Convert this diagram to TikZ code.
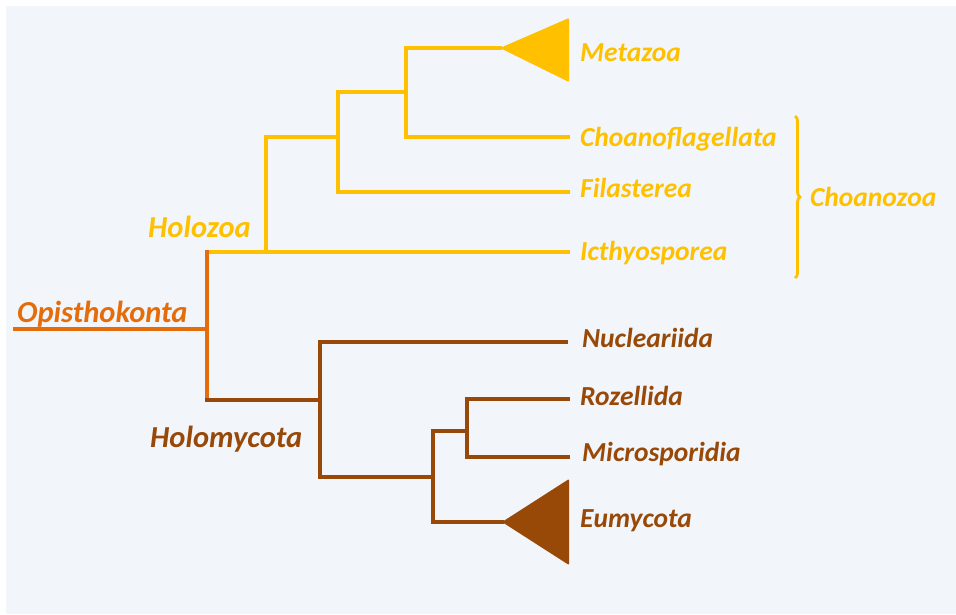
\documentclass[tikz,border=0pt]{standalone}
\usepackage{fontspec}
\setmainfont{Carlito}
\usetikzlibrary{positioning,decorations.pathreplacing}
\definecolor{holozoa}{HTML}{FFC000}
\definecolor{opistho}{HTML}{E46C0A}
\definecolor{holomyc}{HTML}{984807}
\definecolor{panel}{HTML}{F2F6FB}

\begin{document}
\begin{tikzpicture}[
x=1pt,y=-1pt,
branch/.style={line width=3.5pt,line cap=rect},
clade/.style={rounded corners=1pt},
taxon/.style={
anchor=base west,
inner sep=0pt,
font=\fontsize{27.5}{32}\selectfont\bfseries\itshape
},
group/.style={taxon,font=\fontsize{30.5}{36}\selectfont\bfseries\itshape}
]
\useasboundingbox (0,0) rectangle (956,614);
\fill[panel] (6,6) rectangle (956,614);

% tree nodes
\coordinate (stem) at (15,329);
\coordinate (opis) at (207,329);
\coordinate (hzoa) at (266,252);
\coordinate (fila) at (338,137);
\coordinate (meta) at (406,92);
\coordinate (hmyc) at (320,400);
\coordinate (fung) at (433,477);
\coordinate (rozm) at (467,431);

% tips
\coordinate (tipmeta) at (500,48);
\coordinate (tipchoa) at (568,137);
\coordinate (tipfila) at (568,192);
\coordinate (tipicth) at (568,252);
\coordinate (tipnucl) at (566,342);
\coordinate (tiproze) at (568,399);
\coordinate (tipmicr) at (568,457);
\coordinate (tipeumy) at (502,522);

% Holozoa
\draw[branch,holozoa] (opis |- hzoa) -- (hzoa);
\draw[branch,holozoa] (hzoa) -- (tipicth);
\draw[branch,holozoa] (hzoa) |- (fila);
\draw[branch,holozoa] (fila) |- (meta);
\draw[branch,holozoa] (fila) |- (tipfila);
\draw[branch,holozoa] (meta) |- (tipmeta);
\draw[branch,holozoa] (meta) |- (tipchoa);
\fill[holozoa,clade] (tipmeta) -- (569,18) -- (569,82) -- cycle;

% Opisthokonta
\draw[branch,opistho] (stem) -- (opis);
\draw[branch,opistho] (opis |- hzoa) -- (opis |- hmyc);

% Holomycota
\draw[branch,holomyc] (opis |- hmyc) -- (hmyc);
\draw[branch,holomyc] (hmyc) |- (tipnucl);
\draw[branch,holomyc] (hmyc) |- (fung);
\draw[branch,holomyc] (fung) |- (rozm);
\draw[branch,holomyc] (fung) |- (tipeumy);
\draw[branch,holomyc] (rozm) |- (tiproze);
\draw[branch,holomyc] (rozm) |- (tipmicr);
\fill[holomyc,clade] (tipeumy) -- (569,479) -- (569,565) -- cycle;

% labels
\node[taxon,text=holozoa] (metazoa) at (580,61) {Metazoa};
\node[taxon,text=holozoa] (choanofl) at (580,146) {Choanoflagellata};
\node[taxon,text=holozoa] (filasterea) at (580,197) {Filasterea};
\node[taxon,text=holozoa] (icthyo) at (580,260) {Icthyosporea};
\node[group,text=holozoa] (holozoa) at (148,237) {Holozoa};
\node[group,text=opistho] (opisthokonta) at (17,322) {Opisthokonta};
\node[group,text=holomyc] (holomycota) at (150,447) {Holomycota};
\node[taxon,text=holomyc] (nucleariida) at (582,347) {Nucleariida};
\node[taxon,text=holomyc] (rozellida) at (580,405) {Rozellida};
\node[taxon,text=holomyc] (microspor) at (582,461) {Microsporidia};
\node[taxon,text=holomyc] (eumycota) at (580,527) {Eumycota};

% Choanozoa brace
\coordinate (bracetop) at (795,116);
\coordinate (bracebot) at (795,278);
\draw[holozoa,line width=2.8pt,decorate,decoration={brace,amplitude=5pt}]
(bracetop) -- (bracebot);
\node[taxon,text=holozoa] (choanozoa) at (810,206) {Choanozoa};

\end{tikzpicture}
\end{document}
